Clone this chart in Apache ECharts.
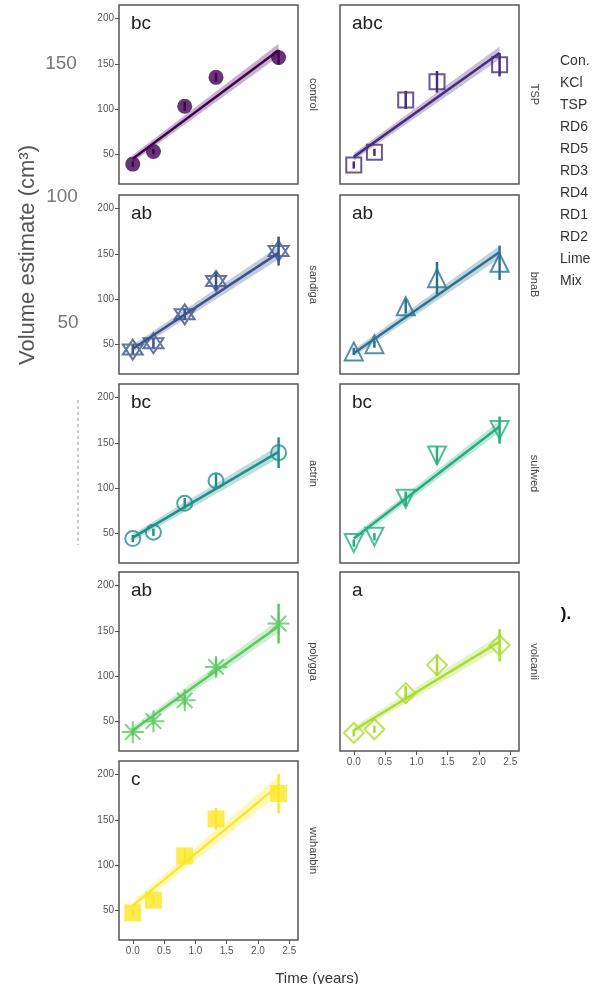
<!DOCTYPE html>
<html lang="en">
<head>
    <meta charset="UTF-8">
    <title>Volume estimate</title>
    <script src="https://cdn.jsdelivr.net/npm/echarts@6/dist/echarts.min.js"></script>
    <style>
        html, body { margin: 0; padding: 0; background: #fff; }
        #container { width: 600px; height: 984px; }
    </style>
</head>
<body>
<div id="container"></div>
<script>
    // sampling times (years)
    var times = [0, 0.33, 0.83, 1.33, 2.33];
    var stripNames = ['control', 'TSP', 'sandiga', 'bnaB', 'actrin', 'sulfwed', 'polygga', 'volcanii', 'wuhanbin'];
    var letters = ['bc', 'abc', 'ab', 'ab', 'bc', 'bc', 'ab', 'a', 'c'];
    var colors = ['#440154', '#472D7B', '#3B528B', '#2C728E', '#21908C', '#27AD81', '#5DC863', '#AADC32', '#FDE725'];

    // mean volume per time, one row per panel
    var means = [
        [39, 53, 103, 135, 157],
        [38, 52, 110, 130, 149],
        [44, 51, 83, 120, 153],
        [42, 50, 92, 123, 140],
        [44, 51, 83, 108, 139],
        [39, 46, 88, 136, 164],
        [38, 50, 73, 110, 158],
        [37, 41, 81, 112, 134],
        [47, 61, 110, 151, 179]
    ];
    var errs = [
        [3, 3, 5, 5, 8],
        [4, 4, 10, 12, 13],
        [5, 5, 6, 10, 16],
        [4, 4, 8, 18, 19],
        [4, 4, 6, 8, 17],
        [4, 4, 8, 10, 15],
        [4, 4, 6, 10, 22],
        [4, 4, 8, 12, 18],
        [4, 4, 8, 12, 22]
    ];
    // fitted line at t=0 and t=2.33, and ribbon half width there
    var fitStart = [45, 47, 45, 40, 45, 44, 40, 40, 55];
    var fitEnd = [165, 162, 151, 152, 140, 168, 155, 138, 188];
    var bandStart = [4, 4, 4, 4, 4, 4, 4, 4, 5];
    var bandEnd = [7, 7, 7, 7, 7, 6, 7, 7, 10];

    var yTicks = [50, 100, 150, 200];
    var xTicks = [0, 0.5, 1, 1.5, 2, 2.5];
    var legendItems = ['Con.', 'KCl', 'TSP', 'RD6', 'RD5', 'RD3', 'RD4', 'RD1', 'RD2', 'Lime', 'Mix'];

    var hexagram = 'path://M0,-10L8.66,5L-8.66,5Z M0,10L8.66,-5L-8.66,-5Z';
    var asterisk = 'path://M0,-10L0,10 M-10,0L10,0 M-7,-7L7,7 M-7,7L7,-7';
    var diamond = 'path://M0,-10L10,0L0,10L-10,0Z';
    var symbols = [
        {symbol: 'circle', size: 15, filled: true},
        {symbol: 'rect', size: 15, filled: false},
        {symbol: hexagram, size: 20, filled: false},
        {symbol: 'triangle', size: 18, filled: false},
        {symbol: 'circle', size: 15, filled: false},
        {symbol: 'triangle', size: 18, filled: false, rotate: 180},
        {symbol: asterisk, size: 22, filled: false},
        {symbol: diamond, size: 20, filled: false},
        {symbol: 'rect', size: 17, filled: true}
    ];

    var colLeft = [119, 340];
    var rowTop = [5, 195, 384, 572, 761];
    var boxW = 179, boxH = 179;

    var grids = [], xAxes = [], yAxes = [], allSeries = [], graphics = [];

    function errRender(params, api) {
        var a = api.coord([api.value(0), api.value(1)]);
        var b = api.coord([api.value(0), api.value(2)]);
        return {
            type: 'line',
            shape: {x1: a[0], y1: a[1], x2: b[0], y2: b[1]},
            style: {stroke: api.visual('color'), lineWidth: 2.5}
        };
    }

    function bandRender(params, api) {
        var pts = [
            api.coord([api.value(0), api.value(1)]),
            api.coord([api.value(3), api.value(4)]),
            api.coord([api.value(3), api.value(5)]),
            api.coord([api.value(0), api.value(2)])
        ];
        return {
            type: 'polygon',
            shape: {points: pts},
            style: {fill: api.visual('color'), opacity: 0.3}
        };
    }

    for (var i = 0; i < 9; i++) {
        var col = i % 2, row = Math.floor(i / 2);
        var boxLeft = colLeft[col], boxTop = rowTop[row];
        var showX = (i === 7 || i === 8);
        var showY = (col === 0);
        var c = colors[i];

        grids.push({
            left: boxLeft, top: boxTop, width: boxW, height: boxH,
            show: true, borderColor: '#555', borderWidth: 1.5, backgroundColor: '#fff'
        });
        xAxes.push({
            type: 'value', gridIndex: i, min: -0.22, max: 2.64,
            splitLine: {show: false},
            axisLine: {show: false, onZero: false},
            axisTick: {show: showX, length: 4, lineStyle: {color: '#555'}, customValues: xTicks.slice()},
            axisLabel: {
                show: showX, color: '#555', fontSize: 10, margin: 6, customValues: xTicks.slice(),
                fontFamily: 'Liberation Sans',
                formatter: function (v) { return v.toFixed(1); }
            }
        });
        yAxes.push({
            type: 'value', gridIndex: i, min: 17, max: 215,
            splitLine: {show: false},
            axisLine: {show: false, onZero: false},
            axisTick: {show: showY, length: 4, lineStyle: {color: '#555'}, customValues: yTicks.slice()},
            axisLabel: {show: showY, color: '#555', fontSize: 10, margin: 5, customValues: yTicks.slice(), fontFamily: 'Liberation Sans'}
        });

        allSeries.push({
            type: 'custom', xAxisIndex: i, yAxisIndex: i, z: 1,
            itemStyle: {color: c},
            renderItem: bandRender,
            data: [[0, fitStart[i] - bandStart[i], fitStart[i] + bandStart[i],
                    times[4], fitEnd[i] - bandEnd[i], fitEnd[i] + bandEnd[i]]],
            silent: true
        });
        allSeries.push({
            type: 'line', xAxisIndex: i, yAxisIndex: i, z: 2,
            showSymbol: false, symbol: 'none',
            lineStyle: {color: c, width: 2.5},
            data: [[0, fitStart[i]], [times[4], fitEnd[i]]],
            silent: true
        });
        var eb = [], pts = [];
        for (var k = 0; k < times.length; k++) {
            eb.push([times[k], means[i][k] - errs[i][k], means[i][k] + errs[i][k]]);
            pts.push([times[k], means[i][k]]);
        }
        allSeries.push({
            type: 'custom', xAxisIndex: i, yAxisIndex: i, z: 3,
            itemStyle: {color: c},
            renderItem: errRender,
            data: eb,
            silent: true
        });
        var s = symbols[i];
        allSeries.push({
            type: 'scatter', xAxisIndex: i, yAxisIndex: i, z: 4,
            symbol: s.symbol, symbolSize: s.size, symbolRotate: s.rotate || 0,
            itemStyle: s.filled ? {color: c} : {color: 'rgba(255,255,255,0)', borderColor: c, borderWidth: 2},
            data: pts,
            silent: true
        });

        // significance letters
        graphics.push({
            type: 'text', x: boxLeft + 12, y: boxTop + 9,
            style: {text: letters[i], fontSize: 19, fill: '#222', fontFamily: 'Liberation Sans'}
        });
        // strip label on right side
        graphics.push({
            type: 'text', x: boxLeft + boxW + 15, y: boxTop + boxH / 2, rotation: -Math.PI / 2,
            style: {text: stripNames[i], fontSize: 11, fill: '#444', align: 'center', verticalAlign: 'middle', fontFamily: 'Liberation Sans'}
        });
    }

    // legend column (text only)
    for (var j = 0; j < legendItems.length; j++) {
        graphics.push({
            type: 'text', x: 560, y: 61 + j * 22,
            style: {text: legendItems[j], fontSize: 14, fill: '#333', verticalAlign: 'middle', fontFamily: 'Liberation Sans'}
        });
    }

    // axis titles
    graphics.push({
        type: 'text', x: 28, y: 255, rotation: Math.PI / 2,
        style: {text: 'Volume estimate (cm³)', fontSize: 22, fill: '#555', align: 'center', verticalAlign: 'middle', fontFamily: 'Liberation Sans'}
    });
    graphics.push({
        type: 'text', x: 317, y: 979,
        style: {text: 'Time (years)', fontSize: 15, fill: '#333', align: 'center', verticalAlign: 'middle', fontFamily: 'Liberation Sans'}
    });

    // leftover labels from the pasted figure
    var strayLabels = [['150', 61, 64], ['100', 62, 197], ['50', 68, 323]];
    strayLabels.forEach(function (t) {
        graphics.push({
            type: 'text', x: t[1], y: t[2],
            style: {text: t[0], fontSize: 19, fill: '#777', align: 'center', verticalAlign: 'middle', fontFamily: 'Liberation Sans'}
        });
    });
    graphics.push({
        type: 'text', x: 566, y: 614,
        style: {text: ').', fontSize: 17, fontWeight: 'bold', fill: '#111', align: 'center', verticalAlign: 'middle', fontFamily: 'Liberation Sans'}
    });
    graphics.push({
        type: 'line', shape: {x1: 78, y1: 400, x2: 78, y2: 545},
        style: {stroke: '#999', lineWidth: 1, lineDash: [3, 3]}
    });

    var myChart = echarts.init(document.getElementById('container'));
    myChart.setOption({
        animation: false,
        grid: grids,
        xAxis: xAxes,
        yAxis: yAxes,
        series: allSeries,
        graphic: graphics
    });
</script>
</body>
</html>
